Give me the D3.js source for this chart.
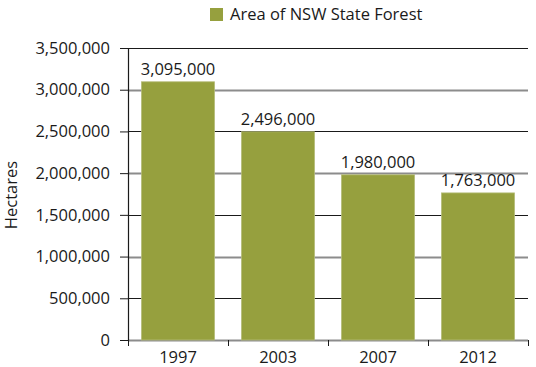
<!DOCTYPE html>
<html lang="en">
<head>
<meta charset="UTF-8">
<title>Area of NSW State Forest</title>
<style>
  body { margin: 0; background: #fff; }
  text { font-family: "Open Sans", sans-serif; fill: #1a1a1a; }
</style>
</head>
<body>
<script src="https://cdn.jsdelivr.net/npm/d3@7"></script>
<script>
// data
var years = ['1997', '2003', '2007', '2012']
var hectares = [3095000, 2496000, 1980000, 1763000]
var yTicks = [0, 500000, 1000000, 1500000, 2000000, 2500000, 3000000, 3500000]
var seriesName = 'Area of NSW State Forest'

var width = 536, height = 367
var margin = { top: 48, right: 8, bottom: 27, left: 128 }
var innerW = width - margin.left - margin.right,
    innerH = height - margin.top - margin.bottom
var fs = '16.5px'

var svg = d3.select('body').append('svg')
    .attr('width', width)
    .attr('height', height)

var x = d3.scaleBand()
    .domain(years)
    .range([0, innerW])
    .paddingInner(0.27)
    .paddingOuter(0.135)

var y = d3.scaleLinear()
    .domain([0, 3500000])
    .range([innerH, 0])

var fmt = d3.format(',')
var g = svg.append('g').attr('transform', 'translate(' + margin.left + ',' + margin.top + ')')

// gridlines, alternating grey / black
g.selectAll('.grid')
    .data(yTicks)
    .enter().append('line')
    .attr('x1', 0)
    .attr('x2', innerW)
    .attr('y1', function (d) { return Math.round(y(d)) + 0.5 })
    .attr('y2', function (d) { return Math.round(y(d)) + 0.5 })
    .attr('stroke', function (d, i) { return i % 2 === 0 ? '#8c8c8c' : '#1a1a1a' })
    .attr('stroke-width', function (d, i) { return i % 2 === 0 ? 2 : 1.2 })

// bars
g.selectAll('.bar')
    .data(hectares)
    .enter().append('rect')
    .attr('x', function (d, i) { return x(years[i]) })
    .attr('y', function (d) { return y(d) })
    .attr('width', x.bandwidth())
    .attr('height', function (d) { return innerH - y(d) })
    .attr('fill', '#96a03e')
    .attr('stroke', '#b4bb78')
    .attr('stroke-width', 0.8)

// value labels
g.selectAll('.val')
    .data(hectares)
    .enter().append('text')
    .attr('x', function (d, i) { return x(years[i]) + x.bandwidth() / 2 })
    .attr('y', function (d) { return y(d) - 7 })
    .attr('text-anchor', 'middle')
    .style('font-size', fs)
    .text(function (d) { return fmt(d) })

// y axis
var yAxis = g.append('g')
    .call(d3.axisLeft(y).tickValues(yTicks).tickFormat(fmt).tickSize(8).tickSizeOuter(0))
yAxis.select('.domain').attr('stroke', '#1a1a1a').attr('stroke-width', 1.2)
yAxis.selectAll('.tick line').attr('stroke', '#1a1a1a')
yAxis.selectAll('text').attr('x', -18).style('font-size', fs).style('font-family', '"Open Sans", sans-serif').attr('fill', '#1a1a1a')

// x axis: ticks at band boundaries
var xAxisG = g.append('g').attr('transform', 'translate(0,' + innerH + ')')
var bounds = d3.range(years.length + 1).map(function (i) { return i * x.step() })
xAxisG.selectAll('.xt')
    .data(bounds)
    .enter().append('line')
    .attr('x1', function (d) { return Math.round(d) + 0.5 })
    .attr('x2', function (d) { return Math.round(d) + 0.5 })
    .attr('y1', 0)
    .attr('y2', 6)
    .attr('stroke', '#1a1a1a')
xAxisG.selectAll('.xl')
    .data(years)
    .enter().append('text')
    .attr('x', function (d) { return x(d) + x.bandwidth() / 2 })
    .attr('y', 23)
    .attr('text-anchor', 'middle')
    .style('font-size', fs)
    .text(function (d) { return d })

// y title
svg.append('text')
    .attr('transform', 'translate(17,195) rotate(-90)')
    .attr('text-anchor', 'middle')
    .style('font-size', fs)
    .text('Hectares')

// legend
svg.append('rect')
    .attr('x', 210).attr('y', 8)
    .attr('width', 13).attr('height', 13)
    .attr('fill', '#96a03e')
svg.append('text')
    .attr('x', 230).attr('y', 20)
    .style('font-size', fs)
    .text(seriesName)
</script>
</body>
</html>
